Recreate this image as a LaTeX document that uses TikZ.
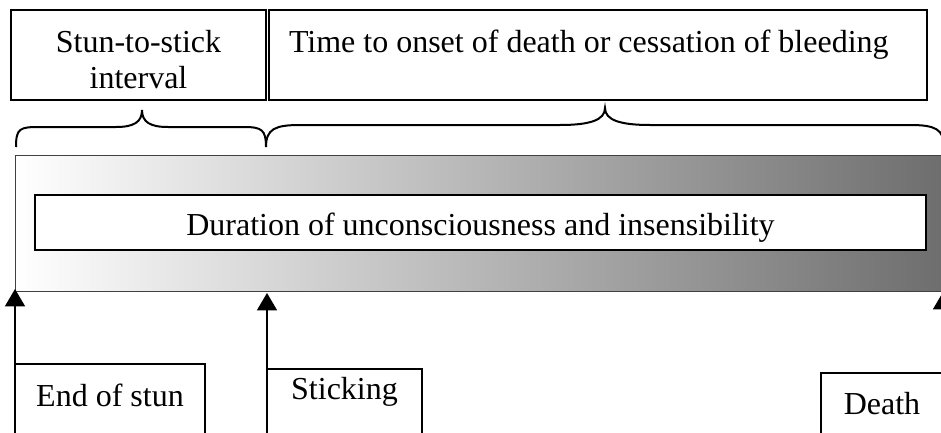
\documentclass[tikz,border=0pt]{standalone}
\usepackage{fontspec}
\setmainfont{Liberation Serif}
\usetikzlibrary{arrows.meta}
\tikzset{
  x=0.75pt, y=-0.75pt,
  lbl/.style={font=\fontsize{24}{27}\selectfont},
  topbox/.style={lbl, draw=black, line width=1.5pt, anchor=north west, inner sep=0pt, outer sep=0pt},
  botbox/.style={lbl, draw=black, line width=1.1pt, anchor=north west, inner sep=0pt, outer sep=0pt},
  arr/.style={draw=black, line width=1.1pt, -{Triangle[width=15pt,length=13pt]}},
  bracepath/.style={draw=black, line width=1.5pt},
}
\begin{document}
\begin{tikzpicture}
\useasboundingbox (0,0) rectangle (941,432);
\clip (0,0) rectangle (941,432);
% top boxes
\node[topbox, minimum width=191.25pt, text height=58.5pt, text depth=9pt, align=center] (sts) at (11,10) {Stun-to-stick\\interval};
\node[topbox, inner xsep=15pt, text height=31.5pt, text depth=36pt] (tto) at (269,10) {\makebox[463.5pt][l]{Time to onset of death or cessation of bleeding}};
% braces
\draw[bracepath] (16,147) .. controls (16,128) and (20,127) .. (40,127) -- (116,127)
  .. controls (134,127) and (142,122) .. (142,110)
  .. controls (142,122) and (150,127) .. (168,127) -- (244,127)
  .. controls (262,127) and (266,130) .. (266,147);
\draw[bracepath] (266,147) .. controls (266,129) and (275,125) .. (300,125) -- (560,125)
  .. controls (590,125) and (605,120) .. (605,108)
  .. controls (605,120) and (620,125) .. (650,125) -- (910,125)
  .. controls (935,125) and (944,129) .. (944,147);
% gradient bar
\node[draw=black!75, line width=1.1pt, left color=white, middle color=black!25, right color=black!57, anchor=north west, inner sep=0pt, minimum width=695.25pt, minimum height=102pt] (bar) at (15,155) {};
% inner box
\node[botbox, draw=black, line width=1.5pt, fill=white, minimum width=668.25pt, text height=30pt, text depth=11.25pt] (dur) at (35,195) {Duration of unconsciousness and insensibility};
% bottom boxes
\node[botbox, minimum width=142.5pt, text height=31.5pt, text depth=40pt] (end) at (15,364) {End of stun};
\node[botbox, minimum width=116.25pt, text height=22.5pt, text depth=50pt] (stick) at (267,369) {Sticking};
\node[botbox, minimum width=91.5pt, text height=30.75pt, text depth=40pt] (death) at (821,373) {Death};
% arrows
\coordinate (s1) at (15,445);
\coordinate (t1) at (15,289);
\coordinate (s2) at (267,445);
\coordinate (t2) at (267,293);
\coordinate (s3) at (943,445);
\coordinate (t3) at (943,292);
\draw[arr] (s1) -- (t1);
\draw[arr] (s2) -- (t2);
\draw[arr] (s3) -- (t3);
\end{tikzpicture}
\end{document}
